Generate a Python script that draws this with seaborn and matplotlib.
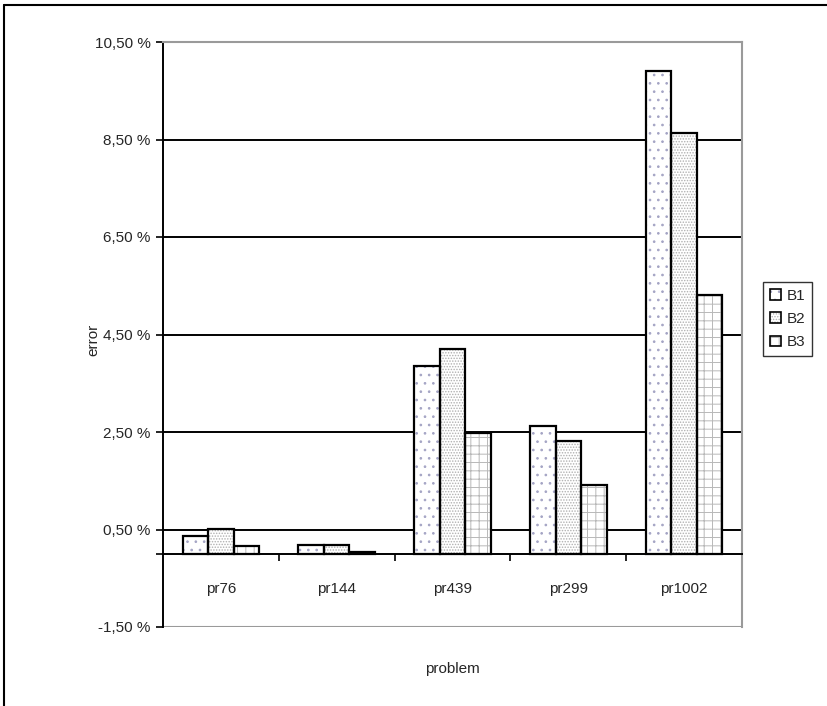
import matplotlib
matplotlib.use("Agg")
import matplotlib.pyplot as plt
import seaborn as sns
import pandas as pd
from matplotlib.patches import Patch
from matplotlib.legend_handler import HandlerTuple
from matplotlib.lines import Line2D

problems = ["pr76", "pr144", "pr439", "pr299", "pr1002"]
series = ["B1", "B2", "B3"]
b1 = [0.36, 0.19, 3.86, 2.62, 9.91]
b2 = [0.52, 0.19, 4.20, 2.32, 8.64]
b3 = [0.17, 0.04, 2.47, 1.41, 5.31]
yticks = [-1.5, 0.5, 2.5, 4.5, 6.5, 8.5, 10.5]
ytick_labels = ["-1,50 %", "0,50 %", "2,50 %", "4,50 %", "6,50 %", "8,50 %", "10,50 %"]

rows = []
for name, vals in zip(series, [b1, b2, b3]):
    for p, v in zip(problems, vals):
        rows.append({"problem": p, "series": name, "error": v})
df = pd.DataFrame(rows)

sns.set_style("white")
plt.rcParams["font.family"] = ["Liberation Sans", "DejaVu Sans"]
plt.rcParams["hatch.linewidth"] = 0.7

FS = 11

fig = plt.figure(figsize=(8.27, 7.06), dpi=100)
ax = fig.add_axes([163 / 827, 1 - 627 / 706, 579 / 827, 585 / 706])

hatches = ["..", "......", "++"]
hatch_colors = ["#a4a4c4", "#b0b0b0", "#b8b8b8"]

sns.barplot(data=df, x="problem", y="error", hue="series", order=problems,
            hue_order=series, palette=["white"] * 3, width=0.66, ax=ax,
            legend=False, errorbar=None, linewidth=0, saturation=1)
for cont, h, hc in zip(ax.containers, hatches, hatch_colors):
    for bar in cont:
        bar.set_hatch(h)
        bar.set_edgecolor(hc)
        bar.set_linewidth(0)
        bar.set_zorder(2)

sns.barplot(data=df, x="problem", y="error", hue="series", order=problems,
            hue_order=series, palette=["black"] * 3, width=0.66, ax=ax,
            legend=False, errorbar=None, fill=False, linewidth=1.6, saturation=1)
for cont in ax.containers[3:]:
    for bar in cont:
        bar.set_zorder(3)

ax.set_ylim(-1.5, 10.5)
ax.set_xlim(-0.5, len(problems) - 0.5)

for yv in yticks[1:-1]:
    ax.axhline(yv, color="black", lw=1.4, zorder=1)
ax.axhline(-1.5, color="#9a9a9a", lw=1.5, zorder=1)

ax.set_yticks(yticks)
ax.set_yticklabels(ytick_labels, fontsize=FS)
ax.set_yticks([0], minor=True)
ax.tick_params(axis="y", which="both", direction="out", length=5, width=1.2,
               color="black", left=True, pad=4)

ax.spines["bottom"].set_position(("data", 0))
ax.spines["bottom"].set_color("black")
ax.spines["bottom"].set_linewidth(1.4)
ax.spines["bottom"].set_zorder(4)
ax.spines["left"].set_color("black")
ax.spines["left"].set_linewidth(1.4)
ax.spines["top"].set_color("#9a9a9a")
ax.spines["top"].set_linewidth(1.5)
ax.spines["right"].set_color("#9a9a9a")
ax.spines["right"].set_linewidth(1.5)
for s in ax.spines.values():
    s.set_visible(True)

ax.set_xticks(range(len(problems)))
ax.set_xticklabels(problems, fontsize=FS)
ax.set_xticks([i + 0.5 for i in range(len(problems) - 1)], minor=True)
ax.tick_params(axis="x", which="major", length=0, pad=20, bottom=True)
ax.tick_params(axis="x", which="minor", length=5, width=1.2, direction="out",
               color="black", bottom=True)

ax.set_xlabel("problem", fontsize=FS, labelpad=48)
ax.set_ylabel("error", fontsize=FS)
ax.yaxis.set_label_coords((100 - 163) / 579, (627 - 340) / 585)

handles = []
for h, hc in zip(hatches, hatch_colors):
    handles.append((Patch(facecolor="white", edgecolor=hc, hatch=h, lw=0),
                    Patch(facecolor="none", edgecolor="black", lw=1.2)))
leg = fig.legend(handles, series, handler_map={tuple: HandlerTuple(ndivide=1, pad=0)},
                 loc="upper left", bbox_to_anchor=(763 / 827, 1 - 282 / 706),
                 fontsize=FS, frameon=True, fancybox=False, shadow=False,
                 handlelength=0.7, handleheight=0.7, handletextpad=0.4,
                 labelspacing=0.6, borderpad=0.45, borderaxespad=0)
leg.get_frame().set_edgecolor("black")
leg.get_frame().set_linewidth(1.0)

fig.add_artist(Line2D([4 / 827, 4 / 827], [0, 1 - 5 / 706], color="black", lw=1.5,
                      transform=fig.transFigure))
fig.add_artist(Line2D([4 / 827, 1], [1 - 5 / 706, 1 - 5 / 706], color="black", lw=1.5,
                      transform=fig.transFigure))

fig.savefig("out.png", dpi=100)
